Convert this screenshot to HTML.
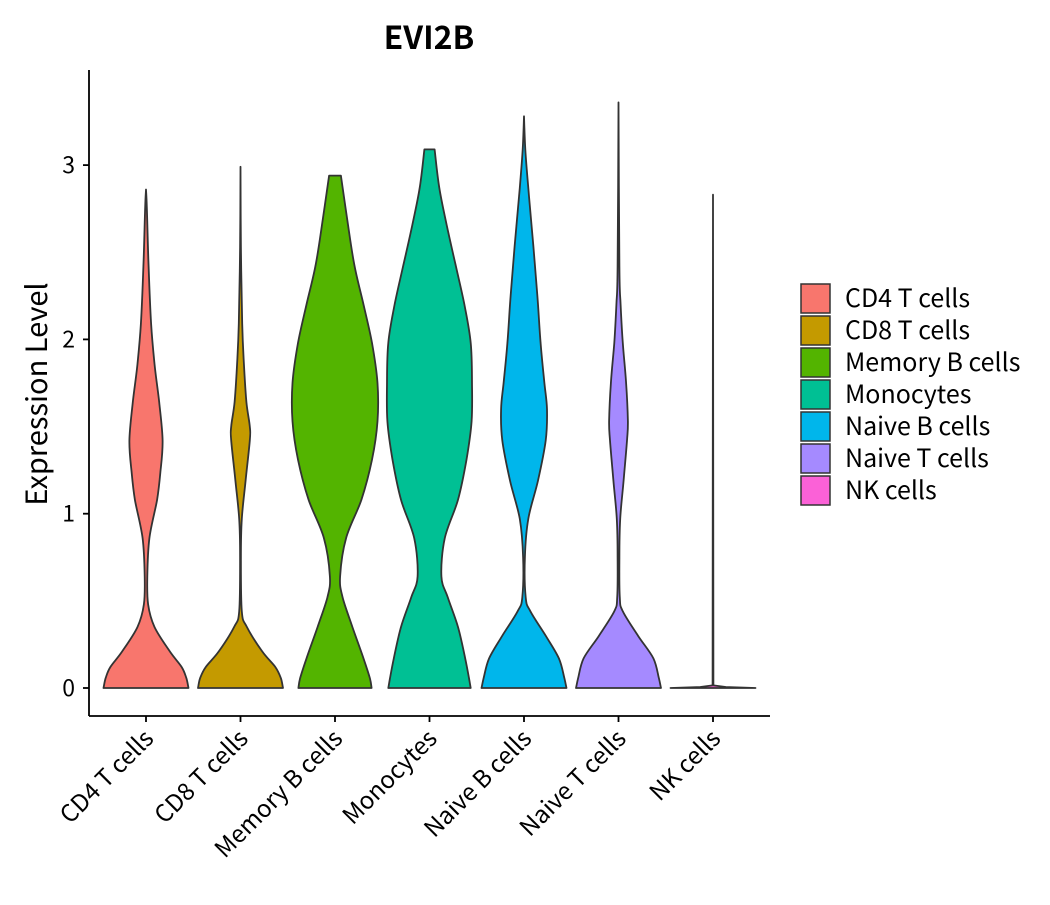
<!DOCTYPE html>
<html><head><meta charset="utf-8"><style>
body{margin:0;background:#fff;}
svg text{font-family:"Noto Sans CJK JP","DejaVu Sans",sans-serif;fill:#000;}
</style></head><body>
<svg id="chart" width="1050" height="900" xmlns="http://www.w3.org/2000/svg">
<text x="429" y="49" text-anchor="middle" font-size="32" font-weight="bold">EVI2B</text>
<text transform="translate(47,394) rotate(-90)" text-anchor="middle" font-size="29">Expression Level</text>
<g id="plot"></g>
<g id="legend"></g>
</svg>
<script>
const categories=["CD4 T cells","CD8 T cells","Memory B cells","Monocytes","Naive B cells","Naive T cells","NK cells"];
const colors=["#F8766D","#C49A00","#53B400","#00C094","#00B6EB","#A58AFF","#FB61D7"];
const yTicks=[0,1,2,3];
// density profiles: [expression value, relative half-width]
const profCD4=[[0,1.0],[0.056,0.95],[0.12,0.84],[0.21,0.56],[0.35,0.2],[0.48,0.05],[0.64,0.03],[0.86,0.08],[1.08,0.26],[1.24,0.34],[1.42,0.39],[1.64,0.31],[1.86,0.2],[2.09,0.12],[2.42,0.06],[2.76,0.02],[2.86,0]];
const profCD8=[[0,1.0],[0.056,0.95],[0.12,0.82],[0.21,0.51],[0.35,0.15],[0.44,0.03],[0.75,0.01],[0.97,0.03],[1.19,0.12],[1.42,0.22],[1.5,0.22],[1.64,0.14],[1.86,0.08],[2.09,0.04],[2.53,0.01],[2.99,0]];
const profMemB=[[0,0.86],[0.056,0.82],[0.17,0.67],[0.35,0.41],[0.52,0.18],[0.64,0.12],[0.86,0.26],[1.08,0.62],[1.31,0.87],[1.53,1.0],[1.75,1.0],[1.98,0.87],[2.2,0.67],[2.42,0.46],[2.65,0.31],[2.94,0.14]];
const profMono=[[0,0.97],[0.056,0.93],[0.17,0.84],[0.35,0.67],[0.52,0.43],[0.64,0.28],[0.86,0.36],[1.08,0.67],[1.31,0.87],[1.53,0.99],[1.75,1.0],[1.98,0.97],[2.2,0.82],[2.42,0.62],[2.65,0.41],[2.87,0.23],[3.09,0.12]];
const profNaiveB=[[0,1.0],[0.056,0.95],[0.17,0.82],[0.3,0.51],[0.44,0.15],[0.52,0.04],[0.75,0.02],[0.97,0.1],[1.19,0.33],[1.42,0.51],[1.6,0.54],[1.75,0.48],[1.98,0.39],[2.2,0.33],[2.42,0.26],[2.65,0.18],[2.87,0.1],[3.09,0.03],[3.28,0]];
const profNaiveT=[[0,1.0],[0.056,0.95],[0.17,0.82],[0.3,0.46],[0.44,0.1],[0.52,0.03],[0.75,0.02],[0.97,0.04],[1.19,0.12],[1.42,0.2],[1.53,0.22],[1.75,0.18],[1.98,0.1],[2.2,0.05],[2.42,0.02],[3.36,0]];
const profNK=[[0,1.0],[0.006,0.3],[0.015,0.01],[2.83,0]];
const profiles=[profCD4,profCD8,profMemB,profMono,profNaiveB,profNaiveT,profNK];

const NS="http://www.w3.org/2000/svg";
const x0=89,x1=770,yTop=70,yBot=716;
const band=94.5;
const xScale=i=>146+band*i;
const yScale=v=>688-v*174.3;
const maxHW=42.5;
const plot=document.getElementById('plot');
function mk(tag,attrs,parent){const e=document.createElementNS(NS,tag);for(const k in attrs)e.setAttribute(k,attrs[k]);parent.appendChild(e);return e;}
function smooth(pts,linear){
  let d="M"+pts[0][0].toFixed(1)+","+pts[0][1].toFixed(1);
  for(let i=0;i<pts.length-1;i++){
    const p0=pts[Math.max(i-1,0)],p1=pts[i],p2=pts[i+1],p3=pts[Math.min(i+2,pts.length-1)];
    if(linear){d+="L"+p2.map(n=>n.toFixed(1)).join(",");continue;}
    const c1=[p1[0]+(p2[0]-p0[0])/6,p1[1]+(p2[1]-p0[1])/6];
    const c2=[p2[0]-(p3[0]-p1[0])/6,p2[1]-(p3[1]-p1[1])/6];
    d+="C"+c1.map(n=>n.toFixed(1)).join(",")+" "+c2.map(n=>n.toFixed(1)).join(",")+" "+p2.map(n=>n.toFixed(1)).join(",");
  }
  return d;
}
profiles.forEach((p,i)=>{
  const cx=xScale(i);
  const lin=p.length<6;
  const right=p.map(([v,w])=>[cx+w*maxHW,yScale(v)]);
  const left=p.slice().reverse().map(([v,w])=>[cx-w*maxHW,yScale(v)]);
  const d=smooth(right,lin)+"L"+smooth(left,lin).slice(1)+"Z";
  const path=mk('path',{d:d,fill:colors[i],stroke:"#333",'stroke-width':1.8,'stroke-linejoin':'round'},plot);
  
  
});

const ya=mk('line',{x1:x0,y1:yTop,x2:x0,y2:yBot,stroke:"#000",'stroke-width':1.8},plot);


const xa=mk('line',{x1:x0,y1:yBot,x2:x1,y2:yBot,stroke:"#000",'stroke-width':1.8},plot);


yTicks.forEach(t=>{
  const y=yScale(t);
  const tk=mk('line',{x1:x0-6,y1:y,x2:x0,y2:y,stroke:"#000",'stroke-width':1.8},plot);
  
  
  const tx=mk('text',{x:x0-14,y:y+8,'text-anchor':'end','font-size':23},plot);
  tx.textContent=t;
  
  
});
categories.forEach((c,i)=>{
  const x=xScale(i);
  const tk=mk('line',{x1:x0,y1:yBot,x2:x0,y2:yBot,stroke:"none"},plot);
  tk.setAttribute('x1',x);tk.setAttribute('x2',x);tk.setAttribute('y2',yBot+6);tk.setAttribute('stroke','#000');tk.setAttribute('stroke-width','1.8');
  
  
  const tx=mk('text',{transform:`translate(${x+9},${yBot+24}) rotate(-45)`,'text-anchor':'end','font-size':24},plot);
  tx.textContent=c;
  
  
});
const lg=document.getElementById('legend');
categories.forEach((c,i)=>{
  const y=284+i*32;
  const r=mk('rect',{x:801,y:y,width:29,height:29,fill:colors[i],stroke:"#333",'stroke-width':1.5},lg);
  
  
  const t=mk('text',{x:845,y:y+23,'font-size':25},lg);
  t.textContent=c;
  
  
});
</script>
</body></html>
